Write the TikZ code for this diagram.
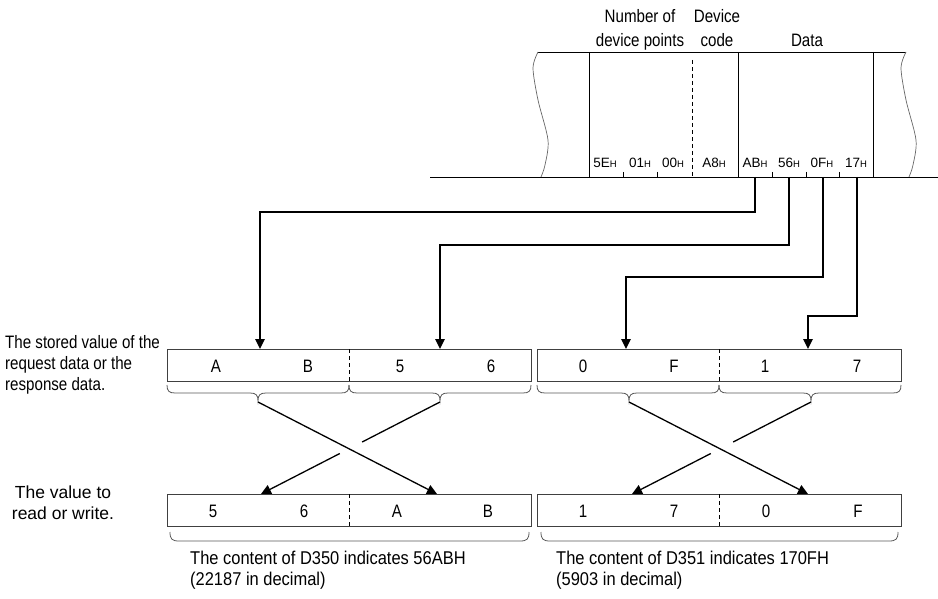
\documentclass[tikz,border=0pt]{standalone}
\usepackage{fontspec}
\setmainfont{Liberation Sans}[FakeStretch=0.84]
\newfontfamily\widefont{Liberation Sans}
\newfontfamily\midfont{Liberation Sans}[FakeStretch=0.89]
\usetikzlibrary{arrows.meta,calc}
\newcommand{\hexlab}[1]{#1{\fontsize{9.5}{10}\selectfont H}}
\newcommand{\upbrace}[3]{%
  \draw[bracestyle] (#1,385) .. controls (#1,391) and (#1+2,393) .. (#1+8,393)
    -- (#3-8,393) .. controls (#3-2,393) and (#3,395) .. (#3,401)
    .. controls (#3,395) and (#3+2,393) .. (#3+8,393)
    -- (#2-8,393) .. controls (#2-2,393) and (#2,391) .. (#2,385);}
\newcommand{\lowbrace}[2]{%
  \draw[bracestyle] (#1,532) .. controls (#1,539) and (#1+2,541) .. (#1+9,541)
    -- (#2-9,541) .. controls (#2-2,541) and (#2,539) .. (#2,532);}
\begin{document}
\begin{tikzpicture}[x=1pt,y=-1pt,
  txt/.style={inner sep=0pt, font=\fontsize{18}{21}\selectfont},
  widetxt/.style={inner sep=0pt, font=\widefont\fontsize{17.5}{21}\selectfont},
  midtxt/.style={inner sep=0pt, font=\midfont\fontsize{18.5}{21}\selectfont},
  hex/.style={inner sep=0pt, anchor=base, font=\widefont\fontsize{13.5}{14}\selectfont},
  cellbox/.style={draw=black!75, line width=1.2pt, inner sep=0pt, anchor=north west,
    minimum width=364pt, minimum height=32pt},
  divider/.style={line width=0.9pt, dash pattern=on 4pt off 3pt},
  conn/.style={line width=1.3pt, -{Triangle[length=10pt,width=9.5pt]}},
  bracestyle/.style={draw=black!65, line width=0.8pt},
  thin/.style={line width=0.8pt},
  wavy/.style={draw=black!60, line width=0.7pt}]
\useasboundingbox (0,0) rectangle (938,599);

% ---------- frame at top ----------
\draw[thin] (538,52) -- (906,52);
\draw[thin] (430,177) -- (938,177);
\draw[thin] (589,52) -- (589,177);
\draw[thin] (738,52) -- (738,177);
\draw[thin] (873,52) -- (873,177);
\draw[divider] (692,60) -- (692,177);
\draw[wavy] plot[smooth] coordinates {(538,52) (533,68) (538,100) (548,140) (545,165) (541,177)};
\draw[wavy] plot[smooth] coordinates {(906,52) (901,68) (906,100) (916,140) (913,165) (909,177)};
\foreach \tx in {623,657,772,806,839} \draw[thin] (\tx,172) -- (\tx,177);

\node[txt, anchor=base] (nd1) at (640,23) {Number of};
\node[txt, anchor=base] (nd2) at (640,47) {device points};
\node[txt, anchor=base] (dc1) at (717,23) {Device};
\node[txt, anchor=base] (dc2) at (717,47) {code};
\node[txt, anchor=base] (dt) at (807,47) {Data};

\node[hex] (h1) at (605,168) {\hexlab{5E}};
\node[hex] (h2) at (640,168) {\hexlab{01}};
\node[hex] (h3) at (673,168) {\hexlab{00}};
\node[hex] (h4) at (714,168) {\hexlab{A8}};
\node[hex] (h5) at (755,168) {\hexlab{AB}};
\node[hex] (h6) at (789,168) {\hexlab{56}};
\node[hex] (h7) at (822,168) {\hexlab{0F}};
\node[hex] (h8) at (856,168) {\hexlab{17}};

% ---------- upper boxes ----------
\node[cellbox] (u1) at (167,349) {};
\node[cellbox] (u2) at (537,349) {};
\draw[divider] (349,349) -- (349,381);
\draw[divider] (719,349) -- (719,381);
\node[txt, anchor=base] (ua) at (216,372) {A};
\node[txt, anchor=base] (ub) at (308,372) {B};
\node[txt, anchor=base] (u5) at (400,372) {5};
\node[txt, anchor=base] (u6) at (491,372) {6};
\node[txt, anchor=base] (u0) at (583,372) {0};
\node[txt, anchor=base] (uf) at (674,372) {F};
\node[txt, anchor=base] (u1t) at (765,372) {1};
\node[txt, anchor=base] (u7) at (857,372) {7};

\upbrace{167}{349}{258}
\upbrace{349}{531}{440}
\upbrace{537}{719}{629}
\upbrace{719}{901}{811}

% ---------- lower boxes ----------
\node[cellbox] (l1) at (167,494) {};
\node[cellbox] (l2) at (537,494) {};
\draw[divider] (349,494) -- (349,526);
\draw[divider] (719,494) -- (719,526);
\node[txt, anchor=base] (l5) at (213,517) {5};
\node[txt, anchor=base] (l6) at (304,517) {6};
\node[txt, anchor=base] (la) at (397,517) {A};
\node[txt, anchor=base] (lb) at (488,517) {B};
\node[txt, anchor=base] (l1t) at (583,517) {1};
\node[txt, anchor=base] (l7) at (674,517) {7};
\node[txt, anchor=base] (l0) at (766,517) {0};
\node[txt, anchor=base] (lf) at (858,517) {F};

\lowbrace{170}{529}
\lowbrace{541}{898}

% ---------- side and bottom texts ----------
\node[txt, anchor=north west, align=left] (stored) at (5,335)
  {The stored value of the\\request data or the\\response data.};
\node[widetxt, anchor=north, align=center] (rw) at (63,486) {The value to\\read or write.};
\node[midtxt, anchor=north west, align=left] (d350) at (190,551)
  {The content of D350 indicates 56ABH\\(22187 in decimal)};
\node[midtxt, anchor=north west, align=left] (d351) at (556,551)
  {The content of D351 indicates 170FH\\(5903 in decimal)};

% ---------- connectors from data bytes ----------
\coordinate (s1) at (755,177);
\coordinate (s2) at (789,177);
\coordinate (s3) at (823,177);
\coordinate (s4) at (857,177);
\coordinate (t1) at (260,349);
\coordinate (t2) at (440,349);
\coordinate (t3) at (626,349);
\coordinate (t4) at (808,349);
\draw[conn] (s1) -- (s1 |- 0,212) -| (t1);
\draw[conn] (s2) -- (s2 |- 0,245) -| (t2);
\draw[conn] (s3) -- (s3 |- 0,277) -| (t3);
\draw[conn, line width=1.7pt] (s4) -- (s4 |- 0,316) -| (t4);

% ---------- swap crossings ----------
\coordinate (c1) at (258,402);
\coordinate (c2) at (440,402);
\coordinate (c3) at (629,402);
\coordinate (c4) at (811,402);
\coordinate (d1) at (261,494);
\coordinate (d2) at (437,494);
\coordinate (d3) at (632,494);
\coordinate (d4) at (808,494);
\draw[conn] (c1) -- (d2);
\draw[line width=1.3pt] (c2) -- ($(c2)!0.435!(d1)$);
\draw[conn] ($(c2)!0.56!(d1)$) -- (d1);
\draw[conn] (c3) -- (d4);
\draw[line width=1.3pt] (c4) -- ($(c4)!0.435!(d3)$);
\draw[conn] ($(c4)!0.56!(d3)$) -- (d3);
\end{tikzpicture}
\end{document}
